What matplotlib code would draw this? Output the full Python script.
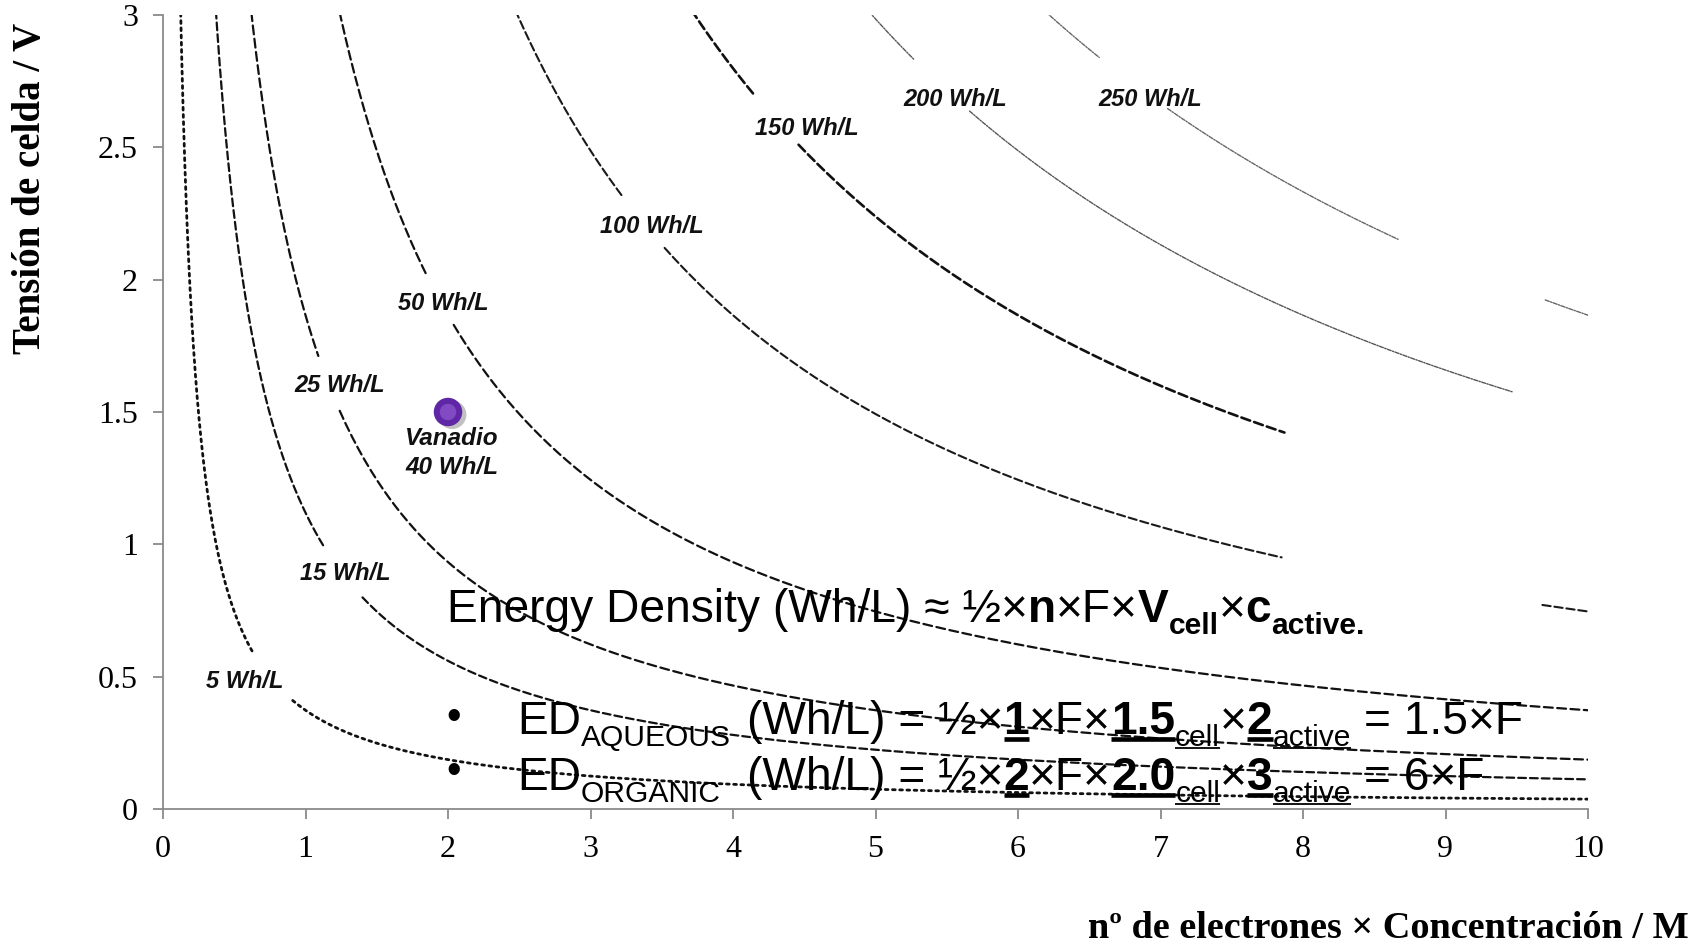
import numpy as np
import matplotlib
matplotlib.use("Agg")
import matplotlib.pyplot as plt
import matplotlib.patheffects as pe
from matplotlib.transforms import IdentityTransform
from matplotlib.lines import Line2D

# ---------------- data ----------------
levels = [5, 15, 25, 50, 100, 150, 200, 250]          # Wh/L iso-energy lines
level_labels = ["5 Wh/L", "15 Wh/L", "25 Wh/L", "50 Wh/L",
                "100 Wh/L", "150 Wh/L", "200 Wh/L", "250 Wh/L"]
label_x = [0.57, 1.28, 1.24, 1.97, 3.43, 4.52, 5.56, 6.93]
label_y = [0.48, 0.89, 1.60, 1.91, 2.20, 2.57, 2.68, 2.68]
# visible x-spans of every iso-line (gaps where labels sit)
spans = {
    5:   [(0.05, 0.63), (0.91, 10.0)],
    15:  [(0.30, 1.13), (1.40, 10.0)],
    25:  [(0.50, 1.09), (1.24, 10.0)],
    50:  [(1.00, 1.85), (2.04, 10.0)],
    100: [(2.30, 3.22), (3.52, 7.85), (9.68, 10.0)],
    150: [(3.50, 4.15), (4.46, 7.87)],
    200: [(4.80, 5.27), (5.66, 9.47)],
    250: [(6.00, 6.57), (7.05, 8.67), (9.70, 10.0)],
}
faraday_ah = 26.8          # Ah/mol ; ED = 1/2 * F * V * (n c)
vanadio_c = [2.0]
vanadio_v = [1.5]
vanadio_label = "Vanadio\n40 Wh/L"
x_ticks = list(range(0, 11))
y_ticks = [0, 0.5, 1, 1.5, 2, 2.5, 3]
y_tick_labels = ["0", "0.5", "1", "1.5", "2", "2.5", "3"]

# ---------------- styles ----------------
styles = {
    5:   dict(color="#111111", lw=2.0, ls=(0, (1, 1.6))),
    15:  dict(color="#111111", lw=1.6, ls=(0, (3.5, 1.8))),
    25:  dict(color="#111111", lw=1.6, ls=(0, (4, 2))),
    50:  dict(color="#111111", lw=1.6, ls=(0, (4, 2))),
    100: dict(color="#1a1a1a", lw=1.5, ls=(0, (4, 1.8))),
    150: dict(color="#111111", lw=1.9, ls=(0, (3.5, 1.6))),
    200: dict(color="#555555", lw=1.0, ls=(0, (3, 1, 1, 1))),
    250: dict(color="#666666", lw=1.0, ls=(0, (3, 1, 1, 1))),
}

W, Hh, DPI = 1703, 944, 100
fig = plt.figure(figsize=(W / DPI, Hh / DPI), dpi=DPI)
fig.patch.set_facecolor("white")
ax = fig.add_axes([163 / W, 1 - 809 / Hh, (1588 - 163) / W, (809 - 15) / Hh])

k = 0.5 * faraday_ah
for lev in levels:
    st = styles[lev]
    for a, b in spans[lev]:
        c = np.linspace(a, b, 400)
        ax.plot(c, lev / (k * c), color=st["color"], lw=st["lw"],
                linestyle=st["ls"], dash_capstyle="round", zorder=2)

for txt, lx, ly in zip(level_labels, label_x, label_y):
    ax.text(lx, ly, txt, ha="center", va="center", fontsize=17,
            family="Liberation Sans", fontweight="bold", fontstyle="italic",
            color="#111111", zorder=4)

# vanadium point
sc = ax.scatter(vanadio_c, vanadio_v, s=420, color="#5f27a6", zorder=5,
                edgecolors="none")
sc.set_path_effects([pe.SimplePatchShadow(offset=(3, -2), shadow_rgbFace="#777777",
                                          alpha=0.45), pe.Normal()])
ax.scatter(vanadio_c, vanadio_v, s=140, color="#a36de0", alpha=0.5, zorder=6,
           edgecolors="none")
ax.text(vanadio_c[0] + 0.03, vanadio_v[0] - 0.055, vanadio_label, ha="center",
        va="top", fontsize=17.5, family="Liberation Sans", fontweight="bold",
        fontstyle="italic", color="#111111", linespacing=1.38, zorder=6)

ax.set_xlim(0, 10)
ax.set_ylim(0, 3)
ax.set_xticks(x_ticks)
ax.set_xticklabels([str(v) for v in x_ticks])
ax.set_yticks(y_ticks)
ax.set_yticklabels(y_tick_labels)
for s in ["top", "right"]:
    ax.spines[s].set_visible(False)
for s in ["left", "bottom"]:
    ax.spines[s].set_color("#8a8a8a")
    ax.spines[s].set_linewidth(1.3)
ax.tick_params(axis="both", colors="#8a8a8a", direction="out", length=7, width=1.3,
               labelcolor="black", labelsize=23)
ax.tick_params(axis="y", pad=11)
ax.tick_params(axis="x", pad=12)
for lab in ax.get_xticklabels() + ax.get_yticklabels():
    lab.set_family("Liberation Serif")

fig.text(31 / W, 1 - 188 / Hh, "Tensión de celda / V", rotation=90, ha="center",
         va="center", fontsize=28, family="Liberation Serif", fontweight="bold")
fig.text(1689 / W, 15 / Hh, "nº de electrones × Concentración / M", ha="right",
         va="center", fontsize=27.5, family="Liberation Serif", fontweight="bold")

# ---------------- rich formula text ----------------
renderer = fig.canvas.get_renderer()
PX = DPI / 72.0
IDT = IdentityTransform()


def H(y_top):
    return Hh - y_top


def draw_pieces(x0, base, pieces, size, family="Liberation Sans"):
    arts = []
    x = x0
    for p in pieces:
        if "at" in p:
            x = p["at"]
        x += p.get("pre", 0) * size * PX
        sub = p.get("sub", False)
        fs = size * 0.65 if sub else size
        dy = -0.25 * size * PX if sub else 0
        t = fig.text(x, base + dy, p["t"], transform=IDT, fontsize=fs,
                     fontweight=p.get("w", "normal"), family=family,
                     ha="left", va="baseline", color="black", zorder=10)
        w = t.get_window_extent(renderer).width
        arts.append(t)
        if p.get("ul"):
            bold = p.get("w") == "bold"
            yy = base + dy - (0.11 if bold else 0.09) * fs * PX
            lw = (0.10 if bold else 0.06) * fs
            ln = Line2D([x, x + w], [yy, yy], transform=IDT, color="black",
                        lw=lw, solid_capstyle="butt", zorder=10)
            fig.add_artist(ln)
            arts.append(ln)
        x += w
    return arts, x


def fit(x0, base, pieces, x_end, start=None, family="Liberation Sans"):
    xs = x0 if start is None else start
    arts, xe = draw_pieces(x0, base, pieces, 30, family)
    for a in arts:
        a.remove()
    size = 30 * (x_end - xs) / (xe - xs)
    return size


line1 = [dict(t="Energy Density (Wh/L) ≈ ½×"), dict(t="n", w="bold"),
         dict(t="×F×"), dict(t="V", w="bold"), dict(t="cell", w="bold", sub=True),
         dict(t="×"), dict(t="c", w="bold"), dict(t="active.", w="bold", sub=True)]
s1 = fit(447, H(622), line1, 1363)
draw_pieces(447, H(622), line1, s1)

tail2 = [dict(t="(Wh/L) = ½×", at=747), dict(t="1", w="bold", ul=True),
         dict(t="×F×"), dict(t="1.5", w="bold", ul=True),
         dict(t="cell", sub=True, ul=True), dict(t="×"),
         dict(t="2", w="bold", ul=True), dict(t="active", sub=True, ul=True),
         dict(t="= 1.5×F", pre=0.28)]
tail3 = [dict(t="(Wh/L) = ½×", at=747), dict(t="2", w="bold", ul=True),
         dict(t="×F×"), dict(t="2.0", w="bold", ul=True),
         dict(t="cell", sub=True, ul=True), dict(t="×"),
         dict(t="3", w="bold", ul=True), dict(t="active", sub=True, ul=True),
         dict(t="= 6×F", pre=0.28)]
line2 = [dict(t="ED"), dict(t="AQUEOUS", sub=True)] + tail2
line3 = [dict(t="ED"), dict(t="ORGANIC", sub=True)] + tail3
s2 = fit(747, H(734), tail2, 1523)
draw_pieces(517, H(734), line2, s2)
draw_pieces(517, H(790), line3, s2)

for yb in (H(717), H(771)):
    fig.text(454, yb - 12, "•", transform=IDT, ha="center", va="baseline",
             fontsize=30, family="Liberation Sans", color="black")

fig.savefig("out.png", dpi=DPI, facecolor="white")
